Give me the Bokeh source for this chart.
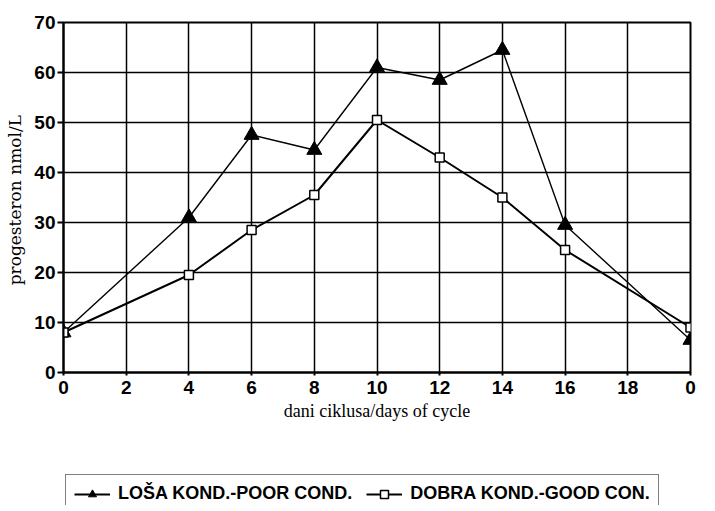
from bokeh.plotting import figure
from bokeh.layouts import column
from bokeh.models import Legend, LegendItem, FixedTicker, Range1d
from bokeh.embed import file_html
from bokeh.resources import INLINE

days = [0, 4, 6, 8, 10, 12, 14, 16, 20]
poor = [8, 31, 47.5, 44.5, 61, 58.5, 64.5, 29.5, 6.5]
good = [8, 19.5, 28.5, 35.5, 50.5, 43, 35, 24.5, 9]
x_ticks = [0, 2, 4, 6, 8, 10, 12, 14, 16, 18, 20]
x_tick_labels = ["0", "2", "4", "6", "8", "10", "12", "14", "16", "18", "0"]
y_ticks = [0, 10, 20, 30, 40, 50, 60, 70]
poor_label = "LOŠA KOND.-POOR COND."
good_label = "DOBRA KOND.-GOOD CON."

p = figure(width=699, height=430, output_backend="svg", toolbar_location=None,
           x_range=Range1d(0, 20), y_range=Range1d(0, 70),
           min_border_left=63, min_border_right=9, min_border_top=22, min_border_bottom=58)
p.background_fill_color = "white"
p.outline_line_color = "black"
p.outline_line_width = 2

for ax in (p.xaxis[0], p.yaxis[0]):
    ax.axis_line_color = "black"
    ax.axis_line_width = 2
    ax.major_tick_line_color = "black"
    ax.major_tick_line_width = 2
    ax.major_tick_in = 0
    ax.minor_tick_line_color = None
    ax.major_label_text_font = "Liberation Sans"
    ax.major_label_text_font_style = "bold"
    ax.major_label_text_font_size = "19px"
    ax.major_label_text_color = "black"
    ax.axis_label_text_font_style = "normal"
    ax.axis_label_text_color = "black"

p.xaxis.ticker = FixedTicker(ticks=x_ticks)
p.xaxis.major_label_overrides = {t: l for t, l in zip(x_ticks, x_tick_labels)}
p.xaxis.major_tick_out = 3
p.xaxis.major_label_standoff = 5
p.xaxis.axis_label = "dani ciklusa/days of cycle"
p.xaxis.axis_label_text_font = "Liberation Serif"
p.xaxis.axis_label_text_font_size = "18px"
p.xaxis.axis_label_standoff = 4
p.yaxis.ticker = FixedTicker(ticks=y_ticks)
p.yaxis.major_tick_out = 6
p.yaxis.major_label_standoff = 2
p.yaxis.axis_label = "progesteron  nmol/L"
p.yaxis.axis_label_text_font = "DejaVu Serif"
p.yaxis.axis_label_text_font_size = "17px"
p.yaxis.axis_label_standoff = 6

p.grid.grid_line_color = "black"
p.grid.grid_line_width = 1.5
p.grid.grid_line_alpha = 1.0

p.line(days, poor, line_color="black", line_width=1.4)
p.scatter(days, poor, marker="triangle", size=15, fill_color="black", line_color="black")
p.line(days, good, line_color="black", line_width=2)
p.scatter(days, good, marker="square", size=9, fill_color="white", line_color="black", line_width=1.5)

# legend panel below the chart (its renderers sit outside the visible range)
q = figure(width=699, height=75, output_backend="svg", toolbar_location=None,
           x_axis_type=None, y_axis_type=None, min_border=0,
           x_range=Range1d(100, 101), y_range=Range1d(100, 101))
q.outline_line_color = None
q.grid.visible = False
lp = q.line(days, poor, line_color="black", line_width=1.8)
sp = q.scatter(days, poor, marker="triangle", size=14, fill_color="black", line_color="black")
lg = q.line(days, good, line_color="black", line_width=1.8)
sg = q.scatter(days, good, marker="square", size=9, fill_color="white", line_color="black", line_width=1.5)

legend = Legend(items=[LegendItem(label=poor_label, renderers=[lp, sp]),
                       LegendItem(label=good_label, renderers=[lg, sg])],
                orientation="horizontal", location=(2, -8),
                label_text_font="Liberation Sans", label_text_font_style="bold",
                label_text_font_size="18px", label_text_color="black",
                border_line_color="black", border_line_width=1.5,
                glyph_width=36, glyph_height=20, padding=8, spacing=14, margin=0,
                label_standoff=8, background_fill_alpha=1)
q.add_layout(legend, "center")

layout = column(p, q, spacing=0)
open("out.html", "w").write(file_html(layout, INLINE))
